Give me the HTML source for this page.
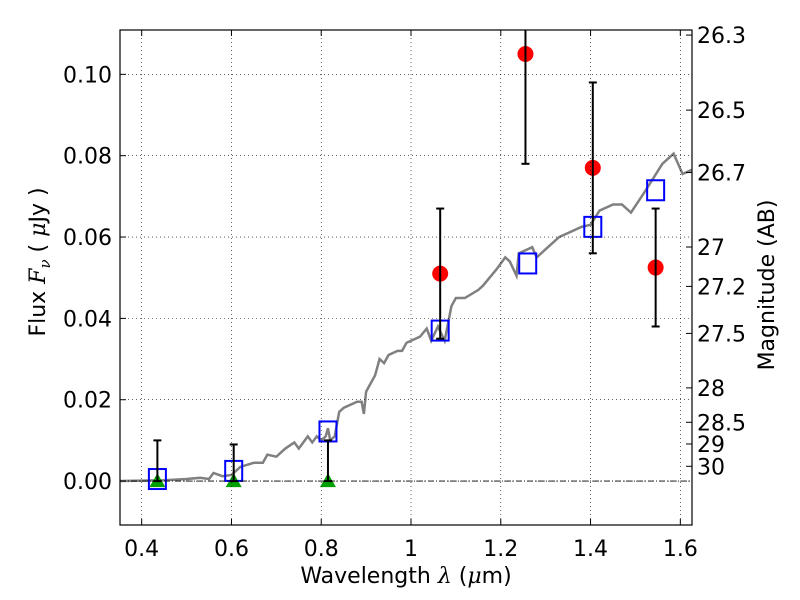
<!DOCTYPE html>
<html><head><meta charset="utf-8"><style>
body{margin:0;background:#fff;}
svg{display:block;font-family:"DejaVu Sans","Liberation Sans",sans-serif;}
</style></head><body>
<svg id="c" width="800" height="600"><defs><clipPath id="pc"><rect x="120" y="30" width="572" height="495"/></clipPath></defs></svg>
<script>
const specX=[0.35,0.45,0.5,0.53,0.55,0.56,0.58,0.6,0.62,0.65,0.67,0.68,0.70,0.72,0.74,0.75,0.77,0.78,0.79,0.80,0.81,0.815,0.82,0.83,0.84,0.85,0.87,0.88,0.89,0.895,0.90,0.92,0.93,0.94,0.95,0.97,0.98,0.99,1.0,1.02,1.035,1.045,1.06,1.075,1.09,1.1,1.12,1.15,1.16,1.19,1.21,1.22,1.235,1.24,1.27,1.28,1.30,1.33,1.35,1.38,1.40,1.42,1.45,1.47,1.49,1.52,1.56,1.585,1.605,1.625];
const specY=[0,0.0002,0.0005,0.0008,0.0005,0.002,0.0012,0.0015,0.0035,0.0045,0.0045,0.0065,0.006,0.008,0.0095,0.008,0.011,0.0095,0.011,0.010,0.011,0.013,0.010,0.011,0.017,0.018,0.019,0.0195,0.0195,0.0165,0.022,0.026,0.030,0.029,0.031,0.032,0.032,0.034,0.0345,0.0355,0.0375,0.0345,0.038,0.0345,0.043,0.045,0.045,0.047,0.048,0.052,0.055,0.054,0.0505,0.056,0.0575,0.055,0.057,0.060,0.061,0.0625,0.063,0.0665,0.068,0.068,0.066,0.071,0.078,0.0805,0.0755,0.0765];
const obsX=[1.065,1.255,1.405,1.545];
const obsY=[0.051,0.105,0.077,0.0525];
const obsLo=[0.035,0.078,0.056,0.038];
const obsHi=[0.067,0.118,0.098,0.067];
const modX=[0.435,0.605,0.815,1.065,1.26,1.405,1.545];
const modY=[0.0005,0.0025,0.0122,0.037,0.0535,0.0625,0.0715];
const limX=[0.435,0.605,0.815];
const limY=[0,0,0];
const limHi=[0.010,0.009,0.010];
const xTicks=[0.4,0.6,0.8,1.0,1.2,1.4,1.6];
const xTickLabels=["0.4","0.6","0.8","1","1.2","1.4","1.6"];
const yTicks=[0,0.02,0.04,0.06,0.08,0.10];
const yTickLabels=["0.00","0.02","0.04","0.06","0.08","0.10"];
const magTicks=[26.3,26.5,26.7,27,27.2,27.5,28,28.5,29,30];
const magTickLabels=["26.3","26.5","26.7","27","27.2","27.5","28","28.5","29","30"];

const L=120,R=692,T=30,B=525;
const x0=0.3517,x1=1.626,y0=-0.0108,y1=0.1109;
const sx=v=>L+(v-x0)/(x1-x0)*(R-L);
const sy=v=>B-(v-y0)/(y1-y0)*(B-T);
const svg=document.getElementById('c');
const NS='http://www.w3.org/2000/svg';
function mk(tag,at,parent){const e=document.createElementNS(NS,tag);for(const k in at)e.setAttribute(k,at[k]);(parent||svg).appendChild(e);return e;}
const plot=mk('g',{'clip-path':'url(#pc)'});



xTicks.forEach((t,i)=>{
  const g=mk('line',{x1:sx(t),x2:sx(t),y1:T,y2:B,stroke:'#000','stroke-width':0.6,'stroke-dasharray':'1,3'});
  
  
  const tk=mk('line',{x1:sx(t),x2:sx(t),y1:B,y2:B-6,stroke:'#000'});
  
  
  const tk2=mk('line',{x1:sx(t),x2:sx(t),y1:T,y2:T+6,stroke:'#000'});
  
  
  const tx=mk('text',{x:sx(t),y:B+31,'text-anchor':'middle','font-size':22});
  tx.textContent=xTickLabels[i];
  
  
});
yTicks.forEach((t,i)=>{
  const g=mk('line',{x1:L,x2:R,y1:sy(t),y2:sy(t),stroke:'#000','stroke-width':0.6,'stroke-dasharray':'1,3'});
  
  
  const tk=mk('line',{x1:L,x2:L+6,y1:sy(t),y2:sy(t),stroke:'#000'});
  
  
  const tx=mk('text',{x:L-8,y:sy(t)+8,'text-anchor':'end','font-size':22});
  tx.textContent=yTickLabels[i];
  
  
});
magTicks.forEach((m,i)=>{
  const f=Math.pow(10,(23.9-m)/2.5);
  const tk=mk('line',{x1:R,x2:R-6,y1:sy(f),y2:sy(f),stroke:'#000'});
  
  
  const tx=mk('text',{x:R+5,y:sy(f)+8,'font-size':22});
  tx.textContent=magTickLabels[i];
  
  
});
const z=mk('line',{x1:L,x2:R,y1:sy(0),y2:sy(0),stroke:'#000','stroke-width':0.8,'stroke-dasharray':'6,2,1,2'});


const sp=mk('polyline',{points:specX.map((v,i)=>sx(v)+','+sy(specY[i])).join(' '),fill:'none',stroke:'#808080','stroke-width':2.5},plot);


function errbar(x,lo,hi){
  const g=mk('g',{stroke:'#000','stroke-width':2},plot);
  
  
  mk('line',{x1:sx(x),x2:sx(x),y1:sy(lo),y2:sy(hi)},g);
  mk('line',{x1:sx(x)-4,x2:sx(x)+4,y1:sy(lo),y2:sy(lo)},g);
  mk('line',{x1:sx(x)-4,x2:sx(x)+4,y1:sy(hi),y2:sy(hi)},g);
}
limX.forEach((x,i)=>{
  const tr=mk('polygon',{points:`${sx(x)},${sy(limY[i])-8} ${sx(x)-8},${sy(limY[i])+6} ${sx(x)+8},${sy(limY[i])+6}`,fill:'#00a000'},plot);
  
  
});
modX.forEach((x,i)=>{
  const r=mk('rect',{x:sx(x)-8.5,y:sy(modY[i])-10,width:17,height:20,fill:'none',stroke:'#0000ff','stroke-width':2},plot);
  
  
});
limX.forEach((x,i)=>errbar(x,limY[i],limHi[i]));
obsX.forEach((x,i)=>{
  const c=mk('circle',{cx:sx(x),cy:sy(obsY[i]),r:8,fill:'#ff0000'},plot);
  
  
  errbar(x,obsLo[i],obsHi[i]);
});
const fr=mk('rect',{x:L,y:T,width:R-L,height:B-T,fill:'none',stroke:'#000','stroke-width':1.2});


</script>
<svg width="800" height="600" style="position:absolute;left:0;top:0;font-family:'DejaVu Sans','Liberation Sans',sans-serif">
<text x="406" y="583" text-anchor="middle" font-size="22">Wavelength  <tspan font-style="italic" font-family="DejaVu Serif">λ</tspan> (<tspan font-style="italic" font-family="DejaVu Serif">μ</tspan>m)</text>
<text transform="translate(45,262) rotate(-90)" text-anchor="middle" font-size="22">Flux  <tspan font-style="italic" font-family="DejaVu Serif">F</tspan><tspan font-style="italic" font-family="DejaVu Serif" font-size="15" dy="5">ν</tspan><tspan dy="-5">  (  </tspan><tspan font-style="italic" font-family="DejaVu Serif">μ</tspan>Jy )</text>
<text transform="translate(774,285) rotate(-90)" text-anchor="middle" font-size="22">Magnitude (AB)</text>
</svg>
</body></html>
